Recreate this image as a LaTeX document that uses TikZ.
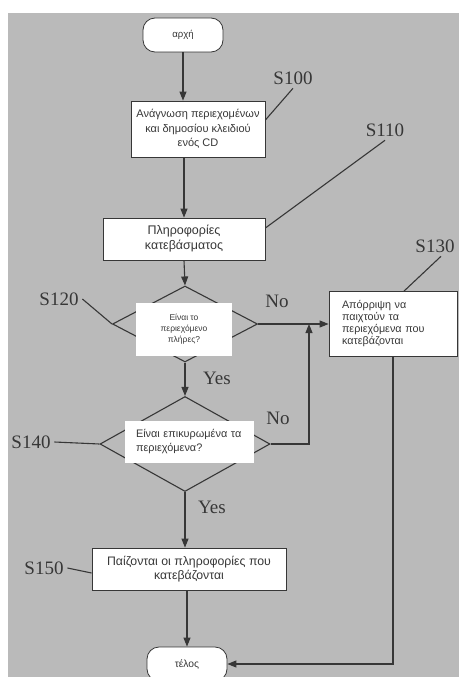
\documentclass[tikz,border=0pt]{standalone}
\usepackage{fontspec}
\setmainfont{Liberation Sans}
\newfontfamily\stepfont{Liberation Serif}
\usepackage{tikz}
\usetikzlibrary{arrows.meta,shapes.geometric}

\definecolor{paper}{RGB}{186,186,186}
\definecolor{ink}{RGB}{55,55,55}

\begin{document}
\begin{tikzpicture}[
    x=1pt, y=-1pt,
    >={Triangle[length=9pt,width=7pt]},
    color=ink, line width=1.1pt,
    box/.style={draw, line width=0.8pt, fill=white, align=center, inner sep=0pt},
    term/.style={box, rounded corners=12pt, minimum width=80pt, minimum height=34pt},
    cond/.style={draw, shape=diamond, inner sep=0pt},
    note/.style={fill=white, inner sep=0pt},
    tag/.style={font=\stepfont\fontsize{19}{19}\selectfont}
]

\useasboundingbox (0,0) rectangle (459,677);
\fill[paper] (8,13) rectangle (459,677);

\node[term, font=\fontsize{9.6}{11}\selectfont] (start) at (183,35) {αρχή};
\node[box, minimum width=134pt, minimum height=56pt, font=\fontsize{11}{14.5}\selectfont] (read) at (198,129) {Ανάγνωση περιεχομένων\\και δημοσίου κλειδιού\\ενός CD};
\node[box, minimum width=162pt, minimum height=42pt, font=\fontsize{12.5}{15}\selectfont] (info) at (184,239) {Πληροφορίες\\κατεβάσματος};

\node[cond, minimum width=145pt, minimum height=76pt] (full) at (185,324) {};
\node[note, minimum width=96pt, minimum height=53pt, align=center, font=\fontsize{8.5}{11}\selectfont] (fulltxt) at (184,329) {Είναι το\\περιεχόμενο\\πλήρες?};

\node[cond, minimum width=170pt, minimum height=95pt] (valid) at (185,444) {};
\node[note, text width=107pt, inner xsep=11pt, minimum height=42pt, align=left, font=\fontsize{10.9}{14}\selectfont] (validtxt) at (189.5,442) {Είναι επικυρωμένα τα\\περιεχόμενα?};

\node[box, text width=102pt, inner xsep=13pt, minimum height=65pt, align=left, font=\fontsize{10.8}{12}\selectfont] (reject) at (393,324) {Απόρριψη να\\παιχτούν τα\\περιεχόμενα που\\κατεβάζονται};

\node[box, minimum width=194pt, minimum height=42pt, font=\fontsize{12.3}{13.5}\selectfont] (play) at (189,569) {Παίζονται οι πληροφορίες που\\κατεβάζονται};
\node[term, font=\fontsize{10.3}{12}\selectfont] (stop) at (187,664) {τέλος};

\node[tag] (s100) at (293,78) {S100};
\node[tag] (s110) at (385,130) {S110};
\node[tag] (s120) at (59,299) {S120};
\node[tag] (s130) at (435,246) {S130};
\node[tag] (s140) at (31,442) {S140};
\node[tag] (s150) at (44,568) {S150};

\node[tag] (no1)  at (277,301) {No};
\node[tag] (yes1) at (217,378) {Yes};
\node[tag] (no2)  at (278,418) {No};
\node[tag] (yes2) at (212,507) {Yes};

\coordinate (merge) at (309,324);

\draw[->] (start.south) -- (start.south |- read.north);
\draw[->] (read.south -| info) -- (info.north);
\draw[->] (info.south) -- (full.north);
\draw[->] (full.south) -- (valid.north);
\draw[->] (valid.south) -- (valid.south |- play.north);
\draw[->] (play.south -| stop) -- (stop.north);

\draw[->] (full.east) -- (reject.west);
\draw[->] (valid.east) -| (merge);
\draw[->] (reject.south) |- (stop.east);

\draw (s100.south) -- ([yshift=9pt]read.east);
\draw (s110.south) -- ([yshift=11pt]info.east);
\draw (s120.east) -- (full.west);
\draw ([xshift=6pt]s130.south) -- ([xshift=11pt]reject.north);
\draw (s140.east) -- (valid.west);
\draw (s150.east) -- ([yshift=-4pt]play.west);

\end{tikzpicture}
\end{document}
